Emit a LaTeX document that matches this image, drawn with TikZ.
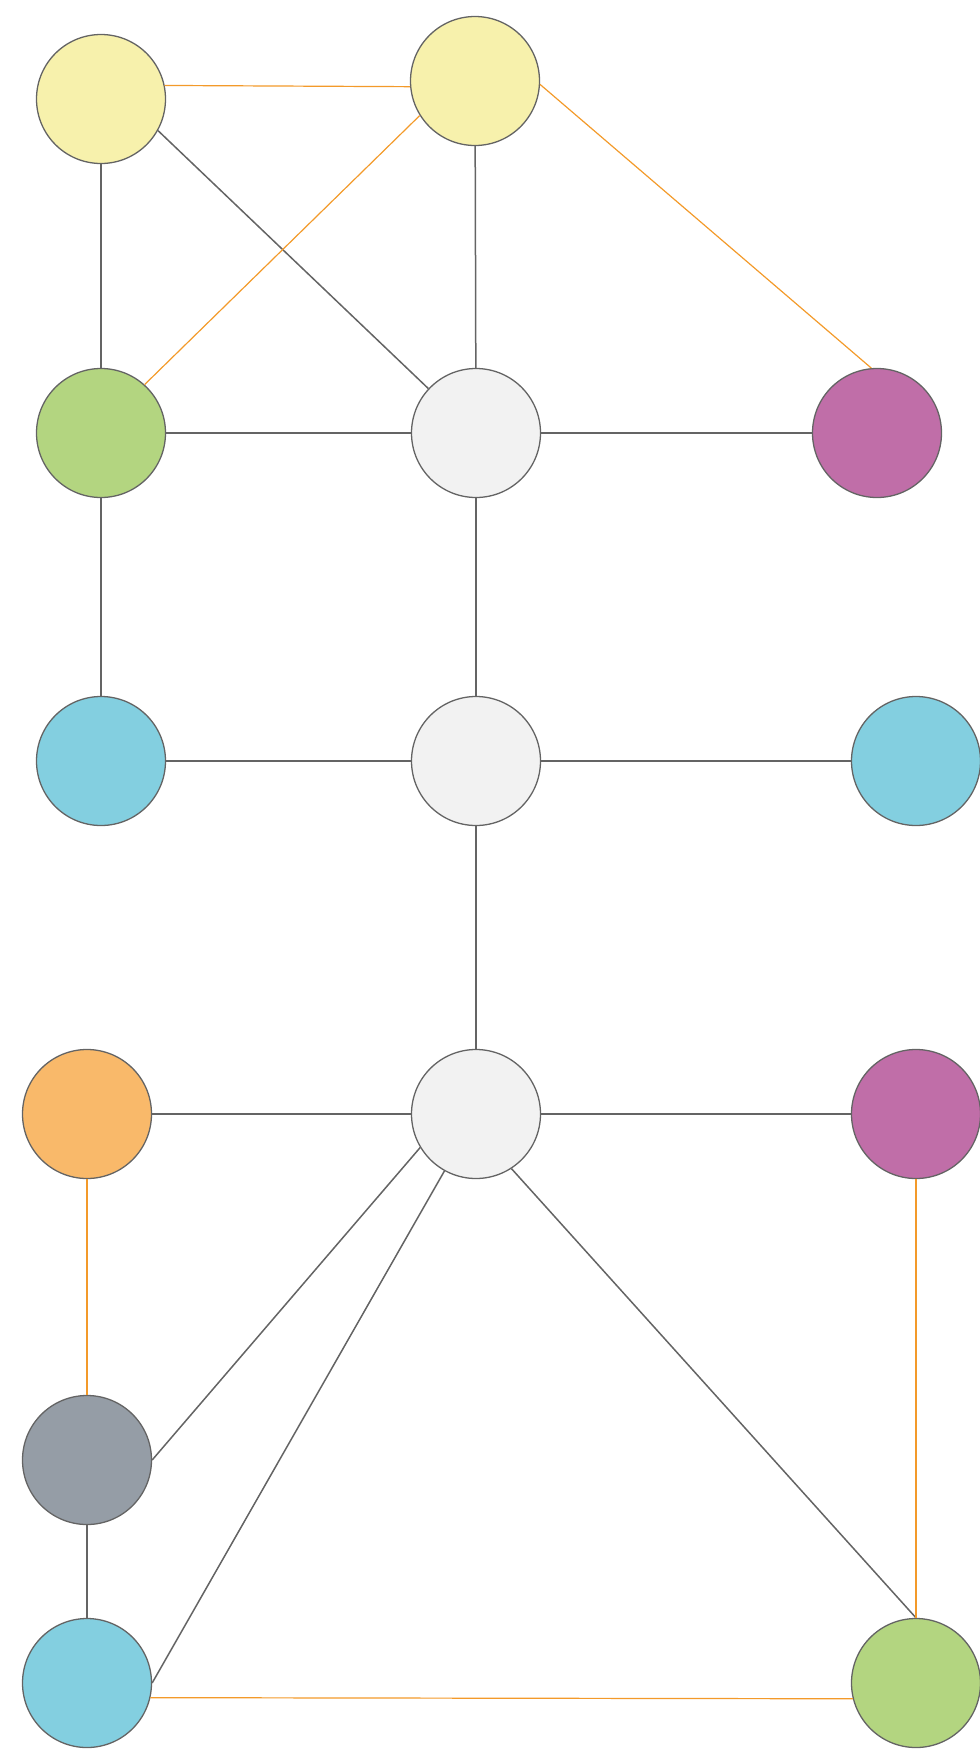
\documentclass[tikz,border=0pt]{standalone}
\usepackage{tikz}
\definecolor{edgegrey}{HTML}{646464}
\definecolor{linkorange}{HTML}{F39A2A}
\definecolor{fyellow}{HTML}{F7F1AC}
\definecolor{fgreen}{HTML}{B3D580}
\definecolor{fhub}{HTML}{F2F2F2}
\definecolor{fpurple}{HTML}{C06EA8}
\definecolor{fblue}{HTML}{83CFE0}
\definecolor{forange}{HTML}{F9B96A}
\definecolor{fslate}{HTML}{959DA6}

\begin{document}
\begin{tikzpicture}[x=1pt, y=-1pt,
    nd/.style={circle, draw=edgegrey, line width=1.3pt, minimum size=129pt, inner sep=0pt},
    ln/.style={draw=edgegrey, line width=1.5pt},
    ol/.style={draw=linkorange, line width=1.2pt}]
    \useasboundingbox (0,0) rectangle (980,1754);
    % nodes
    \node[nd, fill=fyellow] (y1) at (101,99) {};
    \node[nd, fill=fyellow] (y2) at (475,81) {};
    \node[nd, fill=fgreen]  (g1) at (101,433) {};
    \node[nd, fill=fhub]    (h1) at (476,433) {};
    \node[nd, fill=fpurple] (p1) at (877,433) {};
    \node[nd, fill=fblue]   (b1) at (101,761) {};
    \node[nd, fill=fhub]    (h2) at (476,761) {};
    \node[nd, fill=fblue]   (b2) at (916,761) {};
    \node[nd, fill=forange] (o1) at (87,1114) {};
    \node[nd, fill=fhub]    (h3) at (476,1114) {};
    \node[nd, fill=fpurple] (p2) at (916,1114) {};
    \node[nd, fill=fslate]  (s1) at (87,1460) {};
    \node[nd, fill=fblue]   (b3) at (87,1683) {};
    \node[nd, fill=fgreen]  (g2) at (916,1683) {};
    % grey links
    \draw[ln] (y1) -- (g1);
    \draw[ln] (y1.-29) -- (h1.137);
    \draw[ln] (y2) -- (h1);
    \draw[ln] (g1) -- (h1) -- (p1);
    \draw[ln] (g1) -- (b1);
    \draw[ln] (h1) -- (h2);
    \draw[ln] (b1) -- (h2) -- (b2);
    \draw[ln] (h2) -- (h3);
    \draw[ln] (o1) -- (h3) -- (p2);
    \draw[ln] (h3.211) -- (s1.east);
    \draw[ln] (h3.241) -- (b3.east);
    \draw[ln] (h3.303) -- (g2.north);
    \draw[ln] (s1) -- (b3);
    % orange links
    \draw[ol] (y1.12) -- (y2.185);
    \draw[ol] (y2.212) -- (g1.48);
    \draw[ol] (y2.-3) -- (p1.95);
    \draw[ol] (o1) -- (s1);
    \draw[ol] (p2) -- (g2);
    \draw[ol] (b3.-13) -- (g2.194);
\end{tikzpicture}
\end{document}
